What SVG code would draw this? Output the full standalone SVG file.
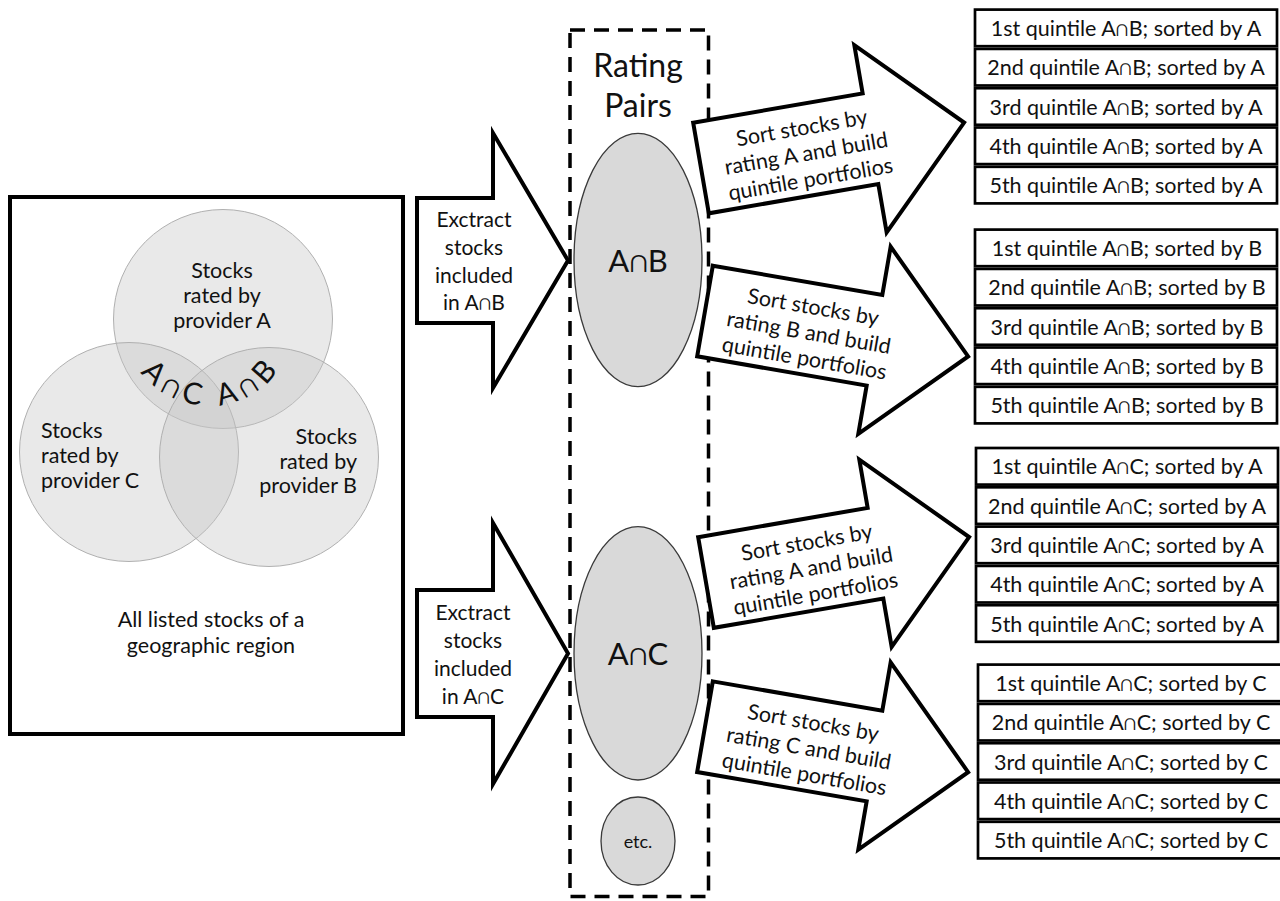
<svg xmlns="http://www.w3.org/2000/svg" width="1280" height="901" viewBox="0 0 1280 901">
<style>
text{font-family:Lato,"DejaVu Sans",sans-serif;fill:#111}
.t20{font-size:21.5px}
.tx{font-size:21px}
.c{text-anchor:middle}
.r{text-anchor:end}
.venn{fill:#c4c4c4;fill-opacity:0.38;stroke:#b0b0b0;stroke-width:1}
.blk{fill:#fff;stroke:#000;stroke-width:4;stroke-linejoin:miter}
.pair{fill:#d9d9d9;stroke:#3a3a3a;stroke-width:1.3}
.row{fill:#fff;stroke:#000;stroke-width:2.7}
.rt{font-size:21.5px;text-anchor:middle}
.at{font-size:21.5px;text-anchor:middle}
.big{font-size:31px;text-anchor:middle}
</style>
<defs>
<polygon id="rarrow" points="0,-46 172,-46 172,-95 267,0 172,95 172,46 0,46"/>
<path id="arc" d="M124.3,334.6 A86,86 0 0 0 293.7,334.6"/>
</defs>
<rect width="1280" height="901" fill="#fff"/>

<g id="universe">
<rect x="10" y="197" width="393" height="537" fill="#fff" stroke="#000" stroke-width="4"/>
<circle class="venn" cx="223" cy="319" r="109.5"/>
<circle class="venn" cx="129" cy="452" r="109.5"/>
<circle class="venn" cx="269" cy="457" r="109.5"/>
<text class="t20 c" x="222" y="278">Stocks</text>
<text class="t20 c" x="222" y="303">rated by</text>
<text class="t20 c" x="222" y="328">provider A</text>
<text class="t20" x="41" y="438">Stocks</text>
<text class="t20" x="41" y="463">rated by</text>
<text class="t20" x="41" y="488">provider C</text>
<text class="t20 r" x="357" y="444">Stocks</text>
<text class="t20 r" x="357" y="469">rated by</text>
<text class="t20 r" x="357" y="493">provider B</text>
<text style="font-size:30px;letter-spacing:6px"><textPath href="#arc" startOffset="51.5%" text-anchor="middle">A∩C A∩B</textPath></text>
<text class="t20 c" x="211" y="627">All listed stocks of a</text>
<text class="t20 c" x="211" y="653">geographic region</text>
</g>

<g id="extract-ab">
<polygon class="blk" points="417,198 493,198 493,133 568,260.5 493,388 493,323 417,323"/>
<text class="tx c" x="474" y="226.5">Exctract</text>
<text class="tx c" x="474" y="254.5">stocks</text>
<text class="tx c" x="474" y="282.5">included</text>
<text class="tx c" x="474" y="310">in A∩B</text>
</g>

<g id="extract-ac">
<polygon class="blk" points="417,590 493,590 493,523 568,653.5 493,784 493,717 417,717"/>
<text class="tx c" x="473" y="620">Exctract</text>
<text class="tx c" x="473" y="648">stocks</text>
<text class="tx c" x="473" y="676">included</text>
<text class="tx c" x="473" y="703.5">in A∩C</text>
</g>

<g id="rating-pairs">
<rect x="570" y="30" width="138.5" height="866.5" fill="none" stroke="#000" stroke-width="3.5" stroke-dasharray="15 9"/>
<text class="c" style="font-size:32px" x="638" y="77">Rating</text>
<text class="c" style="font-size:32px" x="638" y="117">Pairs</text>
</g>

<g id="pair-ab">
<ellipse class="pair" cx="638" cy="260" rx="64" ry="126.7"/>
<text class="big" x="638" y="272">A∩B</text>
</g>
<g id="pair-ac">
<ellipse class="pair" cx="638" cy="653.3" rx="64" ry="126.7"/>
<text class="big" x="638" y="665">A∩C</text>
</g>
<g id="pair-etc">
<ellipse class="pair" cx="638" cy="841" rx="37" ry="44"/>
<text class="c" style="font-size:18px" x="638" y="848">etc.</text>
</g>

<g id="sort-ab-a" transform="translate(701,168) rotate(-9.8)">
<use href="#rarrow" class="blk"/>
<text class="at" x="106" y="-15">Sort stocks by</text>
<text class="at" x="106" y="11">rating A and build</text>
<text class="at" x="106" y="37">quintile portfolios</text>
</g>
<g id="sort-ab-b" transform="translate(705,311) rotate(9.8)">
<use href="#rarrow" class="blk"/>
<text class="at" x="106" y="-15">Sort stocks by</text>
<text class="at" x="106" y="11">rating B and build</text>
<text class="at" x="106" y="37">quintile portfolios</text>
</g>
<g id="sort-ac-a" transform="translate(706,582.5) rotate(-9.8)">
<use href="#rarrow" class="blk"/>
<text class="at" x="106" y="-15">Sort stocks by</text>
<text class="at" x="106" y="11">rating A and build</text>
<text class="at" x="106" y="37">quintile portfolios</text>
</g>
<g id="sort-ac-c" transform="translate(705,726.7) rotate(9.8)">
<use href="#rarrow" class="blk"/>
<text class="at" x="106" y="-15">Sort stocks by</text>
<text class="at" x="106" y="11">rating C and build</text>
<text class="at" x="106" y="37">quintile portfolios</text>
</g>

<g id="quintiles-ab-a">
<rect class="row" x="975" y="9.6" width="302" height="36.6"/>
<rect class="row" x="975" y="48.9" width="302" height="36.6"/>
<rect class="row" x="975" y="88.2" width="302" height="36.6"/>
<rect class="row" x="975" y="127.5" width="302" height="36.6"/>
<rect class="row" x="975" y="166.8" width="302" height="36.6"/>
<text class="rt" x="1126" y="36">1st quintile A∩B; sorted by A</text>
<text class="rt" x="1126" y="75.3">2nd quintile A∩B; sorted by A</text>
<text class="rt" x="1126" y="114.6">3rd quintile A∩B; sorted by A</text>
<text class="rt" x="1126" y="153.9">4th quintile A∩B; sorted by A</text>
<text class="rt" x="1126" y="193.2">5th quintile A∩B; sorted by A</text>
</g>
<g id="quintiles-ab-b">
<rect class="row" x="975" y="229.6" width="302" height="36.6"/>
<rect class="row" x="975" y="268.9" width="302" height="36.6"/>
<rect class="row" x="975" y="308.2" width="302" height="36.6"/>
<rect class="row" x="975" y="347.5" width="302" height="36.6"/>
<rect class="row" x="975" y="386.8" width="302" height="36.6"/>
<text class="rt" x="1127" y="256">1st quintile A∩B; sorted by B</text>
<text class="rt" x="1127" y="295.3">2nd quintile A∩B; sorted by B</text>
<text class="rt" x="1127" y="334.6">3rd quintile A∩B; sorted by B</text>
<text class="rt" x="1127" y="373.9">4th quintile A∩B; sorted by B</text>
<text class="rt" x="1127" y="413.2">5th quintile A∩B; sorted by B</text>
</g>
<g id="quintiles-ac-a">
<rect class="row" x="976" y="448" width="302" height="36.6"/>
<rect class="row" x="976" y="487.3" width="302" height="36.6"/>
<rect class="row" x="976" y="526.6" width="302" height="36.6"/>
<rect class="row" x="976" y="565.9" width="302" height="36.6"/>
<rect class="row" x="976" y="605.2" width="302" height="36.6"/>
<text class="rt" x="1127" y="474.4">1st quintile A∩C; sorted by A</text>
<text class="rt" x="1127" y="513.7">2nd quintile A∩C; sorted by A</text>
<text class="rt" x="1127" y="553">3rd quintile A∩C; sorted by A</text>
<text class="rt" x="1127" y="592.3">4th quintile A∩C; sorted by A</text>
<text class="rt" x="1127" y="631.6">5th quintile A∩C; sorted by A</text>
</g>
<g id="quintiles-ac-c">
<rect class="row" x="978" y="664.6" width="310" height="36.6"/>
<rect class="row" x="978" y="703.9" width="310" height="36.6"/>
<rect class="row" x="978" y="743.2" width="310" height="36.6"/>
<rect class="row" x="978" y="782.5" width="310" height="36.6"/>
<rect class="row" x="978" y="821.8" width="310" height="36.6"/>
<text class="rt" x="1131" y="691">1st quintile A∩C; sorted by C</text>
<text class="rt" x="1131" y="730.3">2nd quintile A∩C; sorted by C</text>
<text class="rt" x="1131" y="769.6">3rd quintile A∩C; sorted by C</text>
<text class="rt" x="1131" y="808.9">4th quintile A∩C; sorted by C</text>
<text class="rt" x="1131" y="848.2">5th quintile A∩C; sorted by C</text>
</g>
<g id="connectors"></g>
</svg>
